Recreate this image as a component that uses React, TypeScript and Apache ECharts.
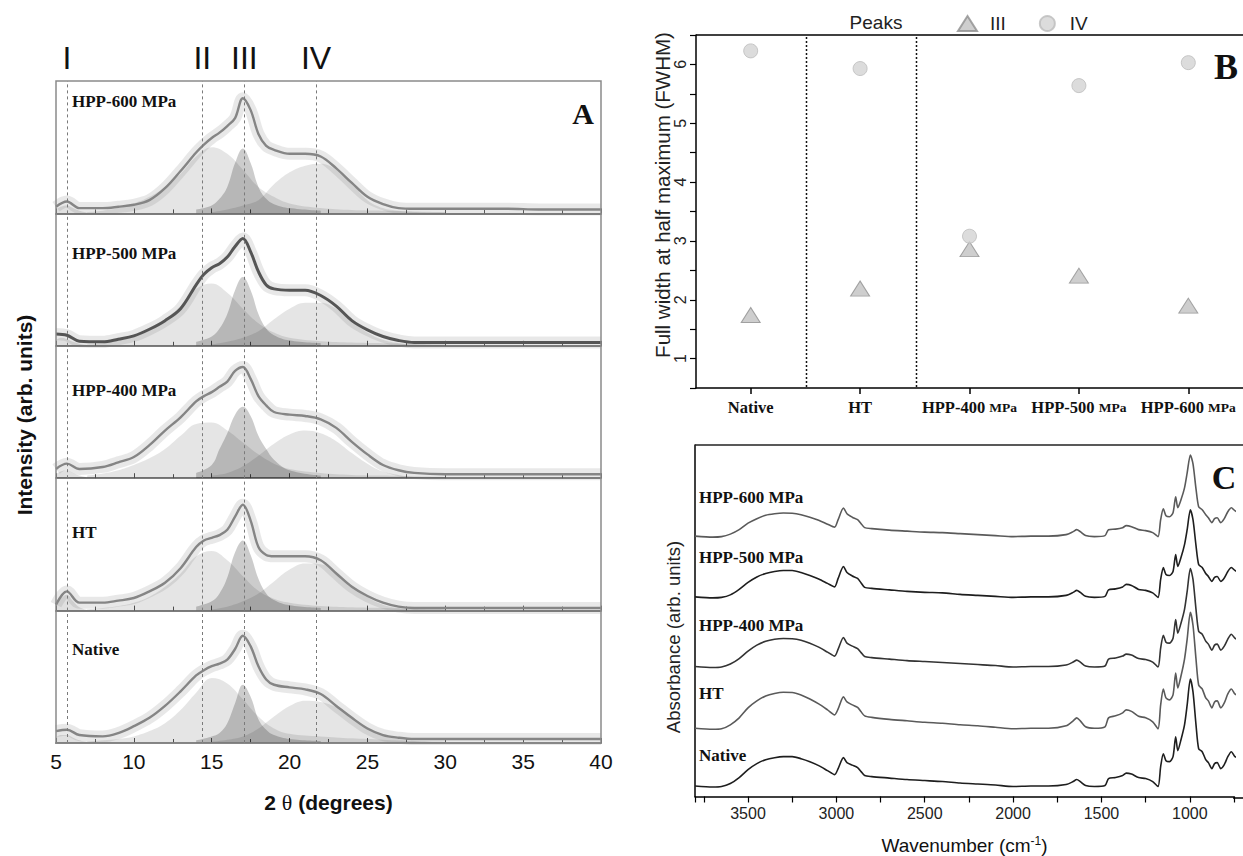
import React, { useEffect, useRef } from "react";
import * as echarts from "echarts";

// ---------------- Panel A : XRD ----------------
const XRD_SAMPLES = ["HPP-600 MPa", "HPP-500 MPa", "HPP-400 MPa", "HT", "Native"];
const PEAK_NAMES = ["I", "II", "III", "IV"];
const PEAK_POS = [5.7, 14.4, 17.1, 21.7];

const XRD_X = [5, 5.7, 6.5, 8, 9, 10, 11, 12, 13, 14, 14.5, 15, 15.5, 16, 16.5, 17, 17.5, 18, 18.5, 19, 20, 21, 22, 23, 24, 25, 26, 27, 28, 30, 32, 34, 36, 38, 40];
const FIT_HPP600 = [5, 9, 4, 4, 5, 6.5, 10, 19, 32, 46, 52, 57, 61, 66, 72, 87, 78, 60, 51, 48, 45, 45, 43, 34, 23, 12.5, 7, 4, 3.5, 3.5, 3.5, 3.5, 3, 3, 3];
const FIT_HPP500 = [9, 8, 3.5, 3, 5, 7.5, 12.5, 19, 28, 46, 54, 59, 62, 67, 75, 81, 71, 56, 46, 43, 42, 42, 38, 30, 19, 12, 7, 4, 2.5, 2.5, 2.5, 2.5, 2.5, 2.5, 2.5];
const FIT_HPP400 = [7, 11, 7, 8.5, 12, 16, 25, 36, 46, 58, 62, 65, 69, 73, 81, 84, 75, 62, 55, 50, 48, 47, 44.5, 38, 27.5, 18, 10, 6, 4, 3, 3, 3, 3, 3, 3];
const FIT_HT = [4.5, 14.5, 6, 6, 7.5, 9.5, 14.5, 21, 32, 48, 53, 55, 57, 61, 71, 80, 68, 48, 42, 41, 41, 41, 38, 28, 18, 11, 6, 3, 2, 2, 2, 2, 2, 2, 2];
const FIT_NATIVE = [9, 10, 6, 5, 7.5, 12.7, 19, 28, 39, 51, 55, 58, 60, 63, 71, 81, 73, 58, 48, 44, 42, 40.5, 37, 28, 19, 11, 6, 4, 3, 3, 3, 3, 3, 3, 3];

const X_PEAK_I = [5, 5.3, 5.7, 6.1, 6.5, 7];
const PEAK_I_HPP600 = [3, 5, 6, 4, 2, 0.5];
const PEAK_I_HPP500 = [4, 6, 5, 3, 1.5, 0.5];
const PEAK_I_HPP400 = [3, 5, 6, 4, 2, 0.5];
const PEAK_I_HT = [5, 9, 12, 7, 2.5, 0.5];
const PEAK_I_NATIVE = [4, 6, 6, 4, 2, 0.5];

const X_PEAK_II = [7, 8, 9, 10, 11, 12, 13, 14, 15, 16, 17, 18, 19, 20, 22, 24, 26, 28, 30];
const PEAK_II_HPP600 = [1, 2, 4, 7.5, 12.5, 20, 30, 43, 50, 45, 33, 20, 12.5, 7.5, 4, 2.5, 2, 1.5, 1];
const PEAK_II_HPP500 = [1, 2, 4, 7, 12, 20, 30, 43, 47, 40, 28, 17, 10, 6, 3.5, 2.5, 2, 1.5, 1];
const PEAK_II_HPP400 = [2, 3.5, 6, 10, 15, 22, 32, 41, 42, 36, 27, 18, 11, 7, 4, 2.5, 2, 1.5, 1];
const PEAK_II_HT = [1, 2, 3.5, 6, 10.5, 18, 28, 41, 45, 38, 26, 15, 9, 6, 3.5, 2.5, 2, 1.5, 1];
const PEAK_II_NATIVE = [1, 2, 3, 5, 9, 15, 25, 38, 49, 45, 33, 20, 11, 7, 5, 3.5, 2.5, 1.5, 1];

const X_PEAK_III = [14, 15, 15.5, 16, 16.5, 17, 17.5, 18, 18.5, 19, 20, 22];
const PEAK_III_HPP600 = [3, 6, 11, 20, 38, 49, 38, 20, 11, 7, 4, 2];
const PEAK_III_HPP500 = [3, 7, 13, 24, 42, 52, 42, 24, 13, 8, 4, 2];
const PEAK_III_HPP400 = [4, 10, 22, 34, 48, 54, 47, 32, 22, 14, 6, 2];
const PEAK_III_HT = [3, 7, 13, 25, 44, 53, 42, 24, 13, 8, 4, 2];
const PEAK_III_NATIVE = [2, 5, 7.6, 15, 30, 44, 35, 18, 10, 6, 3, 1.5];

const X_PEAK_IV = [15, 16, 17, 18, 19, 20, 21, 22, 23, 24, 25, 26, 27, 28, 30];
const PEAK_IV_HPP600 = [1, 3, 6, 10, 22, 31, 36, 37.5, 33, 22.6, 10, 4, 2, 1, 0.5];
const PEAK_IV_HPP500 = [1, 3, 6, 11, 20, 28, 32.5, 32.5, 28, 19, 10, 4.5, 2, 1, 0.5];
const PEAK_IV_HPP400 = [2, 4, 9, 17, 26, 33, 36, 34, 28, 19, 11, 5, 2.5, 1, 0.5];
const PEAK_IV_HT = [1, 3, 7, 13, 22, 31, 35.5, 35, 29, 19, 10, 4.5, 2, 1, 0.5];
const PEAK_IV_NATIVE = [1, 2.5, 5, 11, 20, 28, 32, 31, 27, 20, 11, 6, 3, 1.5, 0.5];

const XRD_TICKS = [5, 10, 15, 20, 25, 30, 35, 40];

// ---------------- Panel B : FWHM ----------------
const FWHM_CATEGORIES = ["Native", "HT", "HPP-400 MPa", "HPP-500 MPa", "HPP-600 MPa"];
const FWHM_PEAK_III = [1.74, 2.19, 2.86, 2.41, 1.9];
const FWHM_PEAK_IV = [6.23, 5.93, 3.08, 5.64, 6.03];
const FWHM_GROUP_BREAKS = [1, 2]; // boundaries after Native and after HT

// ---------------- Panel C : FTIR ----------------
const FTIR_SAMPLES = ["HPP-600 MPa", "HPP-500 MPa", "HPP-400 MPa", "HT", "Native"];
const FTIR_OFFSETS = [261, 200, 130, 68, 10];
const WAVENUMBER = [3800, 3700, 3650, 3600, 3550, 3500, 3450, 3400, 3350, 3300,
  3250, 3200, 3150, 3100, 3050, 3010, 2990, 2960, 2940, 2910,
  2880, 2860, 2840, 2800, 2700, 2600, 2500, 2400, 2300, 2200,
  2100, 2000, 1900, 1800, 1700, 1660, 1640, 1620, 1590, 1540,
  1480, 1460, 1420, 1380, 1360, 1330, 1290, 1250, 1210, 1180,
  1165, 1150, 1135, 1115, 1095, 1080, 1068, 1050, 1030, 1015,
  997, 982, 965, 950, 930, 910, 895, 875, 860, 845,
  825, 805, 785, 765, 745, 725, 710];
const ABS_HPP600 = [0.5, -0.5, 0, 2.5, 7, 13.5, 18, 21.5, 23, 23.7,
  23.5, 22, 19.5, 16.5, 12.5, 9.5, 17, 28.7, 23, 19.5,
  17, 13, 9, 8, 6.5, 5.5, 4.5, 4, 3, 2,
  1, 0, 0.5, 0.5, 2, 5, 7, 5, 1, 0,
  1, 7, 7.5, 9, 11, 10, 7, 6, 4, 0,
  17, 28, 21, 20, 24, 40, 29, 37, 49, 64,
  82, 73, 48, 30, 27, 22, 19, 14, 18, 19,
  14, 18, 25, 29, 26, 24, 23];
const ABS_HPP500 = [0.5, -0.5, 0, 2.5, 8, 15, 20.5, 24, 26, 27,
  27, 25, 22, 18.5, 14, 10.5, 19, 31, 25, 21.5,
  19, 14.5, 10, 9, 7.5, 6, 5, 4.5, 3, 2,
  1, 0, 0.5, 0.5, 2, 5, 7, 5, 1, 0,
  1, 7.5, 8.5, 10.5, 13, 12, 8, 7, 4.5, 0,
  18, 30, 23, 22, 26, 43, 31, 40, 53, 68,
  88, 78, 52, 33, 30, 24, 21, 16, 20, 21,
  16, 19.5, 26, 30, 27, 25, 24];
const ABS_HPP400 = [0.5, -0.5, 0, 3, 8.5, 16, 22, 26, 28, 28.7,
  28.5, 27, 24, 20, 15, 11, 18, 29.7, 24, 21,
  18.5, 14.5, 10.5, 9.5, 8, 6.5, 5.5, 4.5, 3.5, 2.5,
  1.5, 0, 0.5, 0.5, 2, 5, 7, 5, 1, 0,
  1, 8, 9, 11, 13, 12, 8.5, 7.5, 5, 0,
  19, 32, 25, 24, 29, 47.6, 34, 44, 58, 76,
  99, 88, 58, 36, 33, 26, 23, 17, 22, 23,
  17, 21, 28, 33, 29, 27, 25];
const ABS_HT = [0.5, -0.5, 0, 4, 11, 21, 28, 33, 35.5, 36.7,
  36.5, 34, 30, 25, 19, 14, 20, 32, 27, 24,
  21.5, 17, 13, 11.5, 9.5, 8, 6.5, 5.5, 4, 3,
  1.5, 0, 0.5, 0.5, 3, 8, 11, 8, 2, 0.5,
  2, 11, 13, 16, 19, 17.5, 12.5, 11, 7, 0,
  24, 40, 31, 29, 34, 56, 41, 53, 70, 90,
  117, 104, 70, 44, 40, 31, 28, 21, 27, 28,
  21, 26, 35, 40, 35, 33, 31];
const ABS_NATIVE = [0.5, -0.5, 0, 3, 9, 17, 23, 27, 29, 30,
  30, 28, 25, 21, 16, 12, 18, 29, 24, 21.5,
  19, 15, 11, 10, 8.5, 7, 6, 5, 3.5, 2.5,
  1.5, 0, 0.5, 0.5, 2, 5, 7, 5, 1, 0,
  1, 8, 9, 11, 13.5, 12.5, 9, 8, 5, 0,
  20, 33, 26, 25, 30, 50, 36, 47, 62, 82,
  108, 95, 62, 38, 35, 27, 24, 18, 23, 24,
  18, 22, 30, 35, 30, 29, 27];

const SANS = '"Liberation Sans", Arial, Helvetica, sans-serif';
const SERIF = '"Liberation Serif", "Times New Roman", Times, serif';

function buildOption() {
  const fits = [FIT_HPP600, FIT_HPP500, FIT_HPP400, FIT_HT, FIT_NATIVE];
  const peaksI = [PEAK_I_HPP600, PEAK_I_HPP500, PEAK_I_HPP400, PEAK_I_HT, PEAK_I_NATIVE];
  const peaksII = [PEAK_II_HPP600, PEAK_II_HPP500, PEAK_II_HPP400, PEAK_II_HT, PEAK_II_NATIVE];
  const peaksIII = [PEAK_III_HPP600, PEAK_III_HPP500, PEAK_III_HPP400, PEAK_III_HT, PEAK_III_NATIVE];
  const peaksIV = [PEAK_IV_HPP600, PEAK_IV_HPP500, PEAK_IV_HPP400, PEAK_IV_HT, PEAK_IV_NATIVE];
  const ftir = [ABS_HPP600, ABS_HPP500, ABS_HPP400, ABS_HT, ABS_NATIVE];
  const ftirColors = ["#5a5a5a", "#1e1e1e", "#333333", "#5a5a5a", "#1e1e1e"];

  const aLeft = 56, aTop = 81, aW = 545, aH = 132.4;
  const bLeft = 696, bTop = 35, bW = 547, bH = 353;
  const grids: any[] = [];
  const xAxes: any[] = [];
  const yAxes: any[] = [];
  const series: any[] = [];

  XRD_SAMPLES.forEach((name, i) => {
    grids.push({ left: aLeft, top: aTop + i * aH, width: aW, height: aH });
    const last = i === XRD_SAMPLES.length - 1;
    xAxes.push({
      gridIndex: i, type: "value", min: XRD_TICKS[0], max: XRD_TICKS[XRD_TICKS.length - 1], interval: 5,
      axisLine: { show: true, onZero: false, lineStyle: { color: "#7d7d7d", width: 2 } },
      axisTick: { show: true, inside: true, length: 5, lineStyle: { color: "#555", width: 1 } },
      minorTick: { show: true, splitNumber: 2, length: 4, lineStyle: { color: "#555", width: 1 } },
      axisLabel: { show: last, fontSize: 21, fontFamily: SANS, color: "#111", margin: 8 },
      splitLine: { show: false },
      name: last ? "2 {t|θ} (degrees)" : "",
      nameLocation: "middle", nameGap: 48,
      nameTextStyle: {
        fontSize: 21, fontWeight: "bold", fontFamily: SANS, color: "#111",
        rich: { t: { fontSize: 22, fontFamily: SERIF, fontWeight: "normal", color: "#111" } },
      },
    });
    yAxes.push({ gridIndex: i, type: "value", min: 0, max: 100, show: false });
    const mk = (xs: number[], ys: number[]) => xs.map((x, k) => [x, ys[k]]);
    const area = (xs: number[], ys: number[], op: number, nm: string) => ({
      type: "line", name: `${name} peak ${nm}`, xAxisIndex: i, yAxisIndex: i, data: mk(xs, ys),
      smooth: 0.4, symbol: "none", silent: true,
      lineStyle: { width: 0, opacity: 0 }, areaStyle: { color: "#000", opacity: op },
    });
    series.push(area(X_PEAK_I, peaksI[i], 0.12, PEAK_NAMES[0]));
    series.push(area(X_PEAK_II, peaksII[i], 0.1, PEAK_NAMES[1]));
    series.push(area(X_PEAK_IV, peaksIV[i], 0.1, PEAK_NAMES[3]));
    series.push(area(X_PEAK_III, peaksIII[i], 0.2, PEAK_NAMES[2]));
    const dark = i === 1;
    series.push({
      type: "line", name: `${name} data`, xAxisIndex: i, yAxisIndex: i, data: mk(XRD_X, fits[i]),
      smooth: 0.35, symbol: "none", silent: true,
      lineStyle: { width: 12, color: "rgba(120,120,120,0.17)" },
    });
    series.push({
      type: "line", name: `${name} fit`, xAxisIndex: i, yAxisIndex: i, data: mk(XRD_X, fits[i]),
      smooth: 0.35, symbol: "none", silent: true,
      lineStyle: { width: dark ? 3 : 2.4, color: dark ? "#555" : "#858585" },
      markLine: {
        silent: true, symbol: "none", label: { show: false },
        lineStyle: { type: [3, 3], color: "#7a7a7a", width: 1 },
        data: PEAK_POS.map((p) => ({ xAxis: p })),
      },
    });
  });

  // Panel B
  grids.push({ left: bLeft, top: bTop, width: bW, height: bH });
  xAxes.push({
    gridIndex: 5, type: "category", data: FWHM_CATEGORIES, boundaryGap: true,
    axisLine: { show: true, lineStyle: { color: "#000", width: 1.5 } },
    axisTick: { show: true, alignWithLabel: true, length: 6, lineStyle: { color: "#000", width: 1.5 } },
    axisLabel: {
      interval: 0, margin: 11, fontFamily: SERIF, fontWeight: "bold", fontSize: 16.5, color: "#111",
      formatter: (v: string) => v.replace(" MPa", " {s|MPa}"),
      rich: { s: { fontFamily: SERIF, fontWeight: "bold", fontSize: 13.5, color: "#111" } },
    },
    splitLine: { show: false },
  });
  yAxes.push({
    gridIndex: 5, type: "value", min: 0.5, max: 6.5, interval: 0.5,
    axisLine: { show: true, lineStyle: { color: "#000", width: 1.5 } },
    axisTick: { show: true, length: 6, lineStyle: { color: "#000", width: 1.2 } },
    axisLabel: {
      rotate: 90, margin: 8, fontSize: 16, fontFamily: SANS, color: "#222",
      formatter: (v: number) => (Math.abs(v - Math.round(v)) < 1e-6 ? String(Math.round(v)) : ""),
    },
    splitLine: { show: false },
  });
  series.push({
    type: "scatter", name: "III", xAxisIndex: 5, yAxisIndex: 5, data: FWHM_PEAK_III,
    symbol: "triangle", symbolSize: [19, 15],
    itemStyle: { color: "#c2c2c2", borderColor: "#8e8e8e", borderWidth: 1 },
  });
  series.push({
    type: "scatter", name: "IV", xAxisIndex: 5, yAxisIndex: 5, data: FWHM_PEAK_IV,
    symbol: "circle", symbolSize: 14,
    itemStyle: { color: "#d3d3d3", borderColor: "#bcbcbc", borderWidth: 1 },
  });

  // Panel C
  grids.push({ left: 695, top: 445, width: 539, height: 353 });
  xAxes.push({
    gridIndex: 6, type: "value", inverse: true, min: 750, max: 3800, interval: 250,
    axisLine: { show: true, onZero: false, lineStyle: { color: "#000", width: 1.5 } },
    axisTick: { show: true, length: 6, lineStyle: { color: "#000", width: 1.2 } },
    axisLabel: {
      margin: 9, fontSize: 16, fontFamily: SANS, color: "#222",
      formatter: (v: number) => (v % 500 === 0 ? String(v) : ""),
    },
    splitLine: { show: false },
    name: "Wavenumber (cm{sup|-1})", nameLocation: "middle", nameGap: 38,
    nameTextStyle: {
      fontSize: 19, fontFamily: SANS, color: "#111",
      rich: { sup: { fontSize: 12, fontFamily: SANS, color: "#111", verticalAlign: "top", lineHeight: 22 } },
    },
  });
  yAxes.push({
    gridIndex: 6, type: "value", min: 0, max: 353,
    axisLine: { show: true, onZero: false, lineStyle: { color: "#000", width: 1.5 } },
    axisTick: { show: false }, axisLabel: { show: false }, splitLine: { show: false },
  });
  FTIR_SAMPLES.forEach((name, s) => {
    series.push({
      type: "line", name: `FTIR ${name}`, xAxisIndex: 6, yAxisIndex: 6,
      data: WAVENUMBER.map((w, k) => [w, FTIR_OFFSETS[s] + ftir[s][k]]),
      smooth: 0.25, symbol: "none", silent: true, clip: false,
      lineStyle: { width: 1.6, color: ftirColors[s] },
    });
  });

  const text = (t: string, x: number, y: number, o: any = {}) => ({
    type: "text", x, y, silent: true, z: 100, rotation: o.rotation || 0,
    style: {
      text: t, fill: o.fill || "#111", fontSize: o.fontSize || 16, fontFamily: o.fontFamily || SANS,
      fontWeight: o.fontWeight || "normal", textAlign: o.align || "center", textVerticalAlign: "middle",
    },
  });

  const labelAY = [101, 253, 390, 532, 649];
  const labelCY = [497, 557, 625, 693, 755];
  const band = bW / FWHM_CATEGORIES.length;
  const graphic: any[] = [
    { type: "rect", silent: true, z: 90, shape: { x: aLeft, y: aTop, width: aW, height: aH * 5 }, style: { fill: "none", stroke: "#8a8a8a", lineWidth: 1.5 } },
    { type: "line", silent: true, z: 90, shape: { x1: bLeft, y1: bTop, x2: 1243, y2: bTop }, style: { stroke: "#000", lineWidth: 1.5 } },
    { type: "line", silent: true, z: 90, shape: { x1: 695, y1: 445, x2: 1243, y2: 445 }, style: { stroke: "#222", lineWidth: 1.5 } },
    { type: "line", silent: true, z: 90, shape: { x1: 1233, y1: 798, x2: 1243, y2: 798 }, style: { stroke: "#000", lineWidth: 1.5 } },
    text("Intensity (arb. units)", 24, 415, { fontSize: 21, fontWeight: "bold", rotation: Math.PI / 2 }),
    text("A", 583, 113, { fontSize: 30, fontWeight: "bold", fontFamily: SERIF }),
    text("B", 1226, 67, { fontSize: 36, fontWeight: "bold", fontFamily: SERIF }),
    text("C", 1224, 477, { fontSize: 34, fontWeight: "bold", fontFamily: SERIF }),
    text("Full width at half maximum (FWHM)", 662, 195, { fontSize: 20.5, rotation: Math.PI / 2, fill: "#222" }),
    text("Absorbance (arb. units)", 673, 637, { fontSize: 18.5, rotation: Math.PI / 2, fill: "#222" }),
    text("Peaks", 876, 22, { fontSize: 19, fill: "#222" }),
  ];
  FWHM_GROUP_BREAKS.forEach((b) => {
    const x = Math.round(bLeft + band * b) + 1.5;
    graphic.push({
      type: "line", silent: true, z: 80,
      shape: { x1: x, y1: bTop + 2, x2: x, y2: bTop + bH },
      style: { stroke: "#111", lineWidth: 1.5, lineDash: [2, 2] },
    });
  });
  PEAK_NAMES.forEach((p, k) => {
    graphic.push(text(p, aLeft + ((PEAK_POS[k] - 5) * aW) / 35, 58, { fontSize: 32 }));
  });
  XRD_SAMPLES.forEach((n, i) => {
    graphic.push(text(n, 72, labelAY[i], { fontSize: 17, fontWeight: "bold", fontFamily: SERIF, align: "left" }));
  });
  FTIR_SAMPLES.forEach((n, i) => {
    graphic.push(text(n, 699, labelCY[i], { fontSize: 17, fontWeight: "bold", fontFamily: SERIF, align: "left" }));
  });

  return {
    animation: false,
    backgroundColor: "#fff",
    grid: grids,
    xAxis: xAxes,
    yAxis: yAxes,
    legend: {
      data: ["III", "IV"], left: 952, top: 9, itemWidth: 19, itemHeight: 15, itemGap: 33,
      textStyle: { fontSize: 19, fontFamily: SANS, color: "#222", padding: [0, 0, 0, 8] },
      selectedMode: false,
    },
    series,
    graphic,
  };
}

export default function App() {
  const ref = useRef<HTMLDivElement>(null);
  useEffect(() => {
    if (!ref.current) return;
    const chart = echarts.init(ref.current, null, { renderer: "svg" });
    chart.setOption(buildOption() as any);
    return () => chart.dispose();
  }, []);
  return (
    <div
      ref={ref}
      style={{ position: "absolute", left: 0, top: 0, width: 1243, height: 856, background: "#fff" }}
    />
  );
}
